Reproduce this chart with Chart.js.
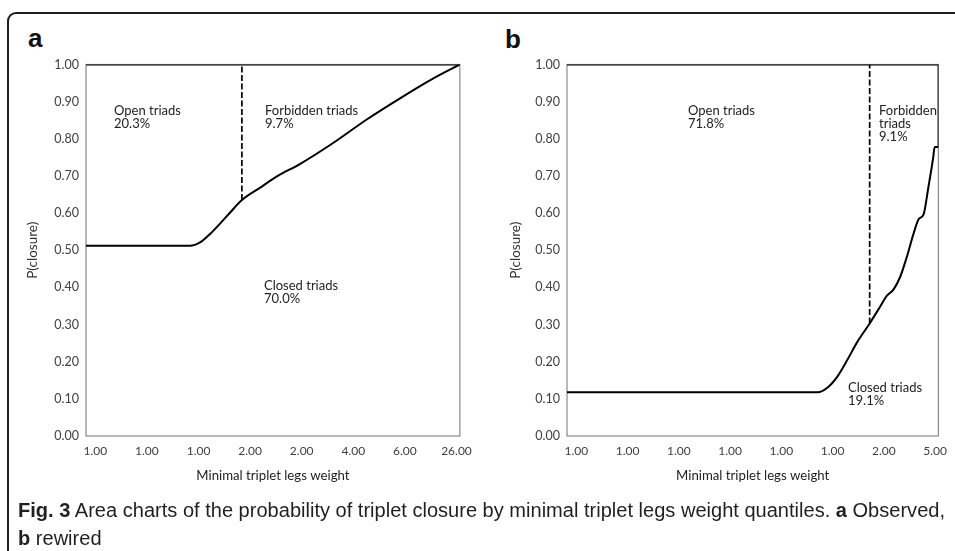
<!DOCTYPE html>
<html lang="en">
<head>
    <meta charset="UTF-8">
    <title>Fig. 3 Area charts of the probability of triplet closure</title>
    <script src="https://cdn.jsdelivr.net/npm/chart.js"></script>
    <style>
        body { margin: 0; width: 955px; height: 551px; overflow: hidden; background: #fff; position: relative; font-family: 'Lato', sans-serif; }
        .frame { position: absolute; left: 7px; top: 12px; width: 1000px; height: 600px; border-top: 2px solid #1e1e1e; border-left: 2px solid #1e1e1e; border-top-left-radius: 9px; }
        canvas { position: absolute; }
        .letter { position: absolute; font-family: 'Liberation Sans', Arial, sans-serif; font-weight: bold; font-size: 26px; line-height: 26px; color: #111; }
        .note { position: absolute; font-size: 13px; line-height: 13px; color: #222; white-space: nowrap; }
        .caption { position: absolute; left: 18px; top: 496px; font-family: 'Liberation Sans', Arial, sans-serif; font-size: 20px; line-height: 28px; color: #231f20; white-space: nowrap; transform-origin: 0 0; }
        .caption span { display: inline-block; }
    </style>
</head>
<body>
    <div class="frame"></div>

    <div class="letter" style="left:28px; top:25px;">a</div>
    <div class="letter" style="left:505px; top:26px;">b</div>

    <canvas id="chart-a" width="480" height="450" style="left:0; top:50px;"></canvas>
    <canvas id="chart-b" width="475" height="450" style="left:480px; top:50px;"></canvas>

    <div class="note" style="left:114px; top:104px;">Open triads<br>20.3%</div>
    <div class="note" style="left:265px; top:104px;">Forbidden triads<br>9.7%</div>
    <div class="note" style="left:264px; top:279px;">Closed triads<br>70.0%</div>

    <div class="note" style="left:688px; top:104px;">Open triads<br>71.8%</div>
    <div class="note" style="left:879px; top:104px;">Forbidden<br>triads<br>9.1%</div>
    <div class="note" style="left:848px; top:381px;">Closed triads<br>19.1%</div>

    <div class="caption" id="caption"><span id="cap-line1"><b>Fig. 3</b> Area charts of the probability of triplet closure by minimal triplet legs weight quantiles. <b>a</b> Observed,</span><br><span><b>b</b> rewired</span></div>

    <script>
        // quantile position (0-100) -> P(closure)
        const observedX = [0, 10, 20, 27.8, 30.5, 33.2, 35.8, 38.5, 41.7, 46.5, 51.3, 57.2, 66, 75.1, 84, 92.8, 100];
        const observedY = [0.512, 0.512, 0.512, 0.512, 0.521, 0.544, 0.571, 0.601, 0.635, 0.668, 0.70, 0.732, 0.788, 0.852, 0.909, 0.962, 1.0];
        const observedSplit = 41.7;

        const rewiredX = [0, 20, 40, 60, 67.5, 70.1, 72.8, 75.5, 78.1, 81.5, 84.3, 86.1, 87.9, 89.7, 91.5, 93.3, 94.7, 96, 97.3, 98.6, 99, 100];
        const rewiredY = [0.118, 0.118, 0.118, 0.118, 0.118, 0.13, 0.16, 0.205, 0.252, 0.303, 0.348, 0.377, 0.394, 0.428, 0.482, 0.544, 0.584, 0.596, 0.669, 0.749, 0.778, 0.778];
        const rewiredSplit = 81.5;

        const xTickPos = [2.5, 16.3, 30.1, 43.9, 57.7, 71.5, 85.3, 99.1];
        const observedTicks = ['1.00', '1.00', '1.00', '2.00', '2.00', '4.00', '6.00', '26.00'];
        const rewiredTicks = ['1.00', '1.00', '1.00', '1.00', '1.00', '1.00', '2.00', '5.00'];

        // squeeze the caption to the condensed width of the original
        const line1 = document.getElementById('cap-line1');
        const squeeze = 927 / line1.getBoundingClientRect().width;
        document.getElementById('caption').style.transform = 'scaleX(' + squeeze + ')';

        Chart.defaults.font.family = 'Lato, sans-serif';
        Chart.defaults.color = '#404040';

        // grey plot frame
        const plotFrame = {
            id: 'plotFrame',
            beforeDatasetsDraw(chart) {
                const a = chart.chartArea;
                const ctx = chart.ctx;
                ctx.save();
                ctx.strokeStyle = '#8a8a8a';
                ctx.lineWidth = 1.2;
                ctx.strokeRect(a.left, a.top, a.right - a.left, a.bottom - a.top);
                ctx.restore();
            }
        };

        function toPoints(xs, ys) {
            return xs.map((x, i) => ({ x: x, y: ys[i] }));
        }

        function makeChart(id, xs, ys, split, tickLabels, yAxisWidth, titlePad, rightPad) {
            const last = ys[ys.length - 1];
            const datasets = [
                {
                    data: toPoints(xs, ys),
                    borderColor: '#000',
                    borderWidth: 2,
                    cubicInterpolationMode: 'monotone'
                },
                {
                    data: [{ x: split, y: ys[xs.indexOf(split)] }, { x: split, y: 1 }],
                    borderColor: '#000',
                    borderWidth: 1.7,
                    borderDash: [6, 2.5]
                },
                {
                    data: [{ x: 0, y: 1 }, { x: 100, y: 1 }],
                    borderColor: '#000',
                    borderWidth: 2
                }
            ];
            if (last < 1) {
                datasets.push({
                    data: [{ x: 100, y: last }, { x: 100, y: 1 }],
                    borderColor: '#000',
                    borderWidth: 1.5
                });
            }

            return new Chart(document.getElementById(id).getContext('2d'), {
                type: 'line',
                data: { datasets: datasets },
                plugins: [plotFrame],
                options: {
                    responsive: false,
                    animation: false,
                    layout: { padding: { top: 13, right: rightPad, left: 0, bottom: 0 } },
                    elements: { point: { radius: 0 }, line: { tension: 0 } },
                    plugins: { legend: { display: false }, tooltip: { enabled: false } },
                    scales: {
                        x: {
                            type: 'linear',
                            min: 0,
                            max: 100,
                            grid: { display: false, drawTicks: false },
                            border: { display: false },
                            afterBuildTicks: (scale) => { scale.ticks = xTickPos.map(v => ({ value: v })); },
                            afterFit: (scale) => { scale.height = 64; },
                            ticks: {
                                autoSkip: false,
                                maxRotation: 0,
                                padding: 8,
                                font: { size: 12 },
                                callback: (value, index) => tickLabels[index]
                            },
                            title: {
                                display: true,
                                text: 'Minimal triplet legs weight',
                                font: { size: 13.2 },
                                color: '#222',
                                padding: { top: 0, bottom: 16 }
                            }
                        },
                        y: {
                            min: 0,
                            max: 1,
                            grid: { display: false, drawTicks: false },
                            border: { display: false },
                            afterFit: (scale) => { scale.width = yAxisWidth; },
                            ticks: {
                                stepSize: 0.1,
                                padding: 7,
                                font: { size: 12.5 },
                                callback: (value) => value.toFixed(2)
                            },
                            title: {
                                display: true,
                                text: 'P(closure)',
                                font: { size: 13.5 },
                                color: '#333',
                                padding: { top: titlePad, bottom: 0 }
                            }
                        }
                    }
                }
            });
        }

        makeChart('chart-a', observedX, observedY, observedSplit, observedTicks, 86, 25, 20);
        makeChart('chart-b', rewiredX, rewiredY, rewiredSplit, rewiredTicks, 87, 28, 13);
    </script>
</body>
</html>
